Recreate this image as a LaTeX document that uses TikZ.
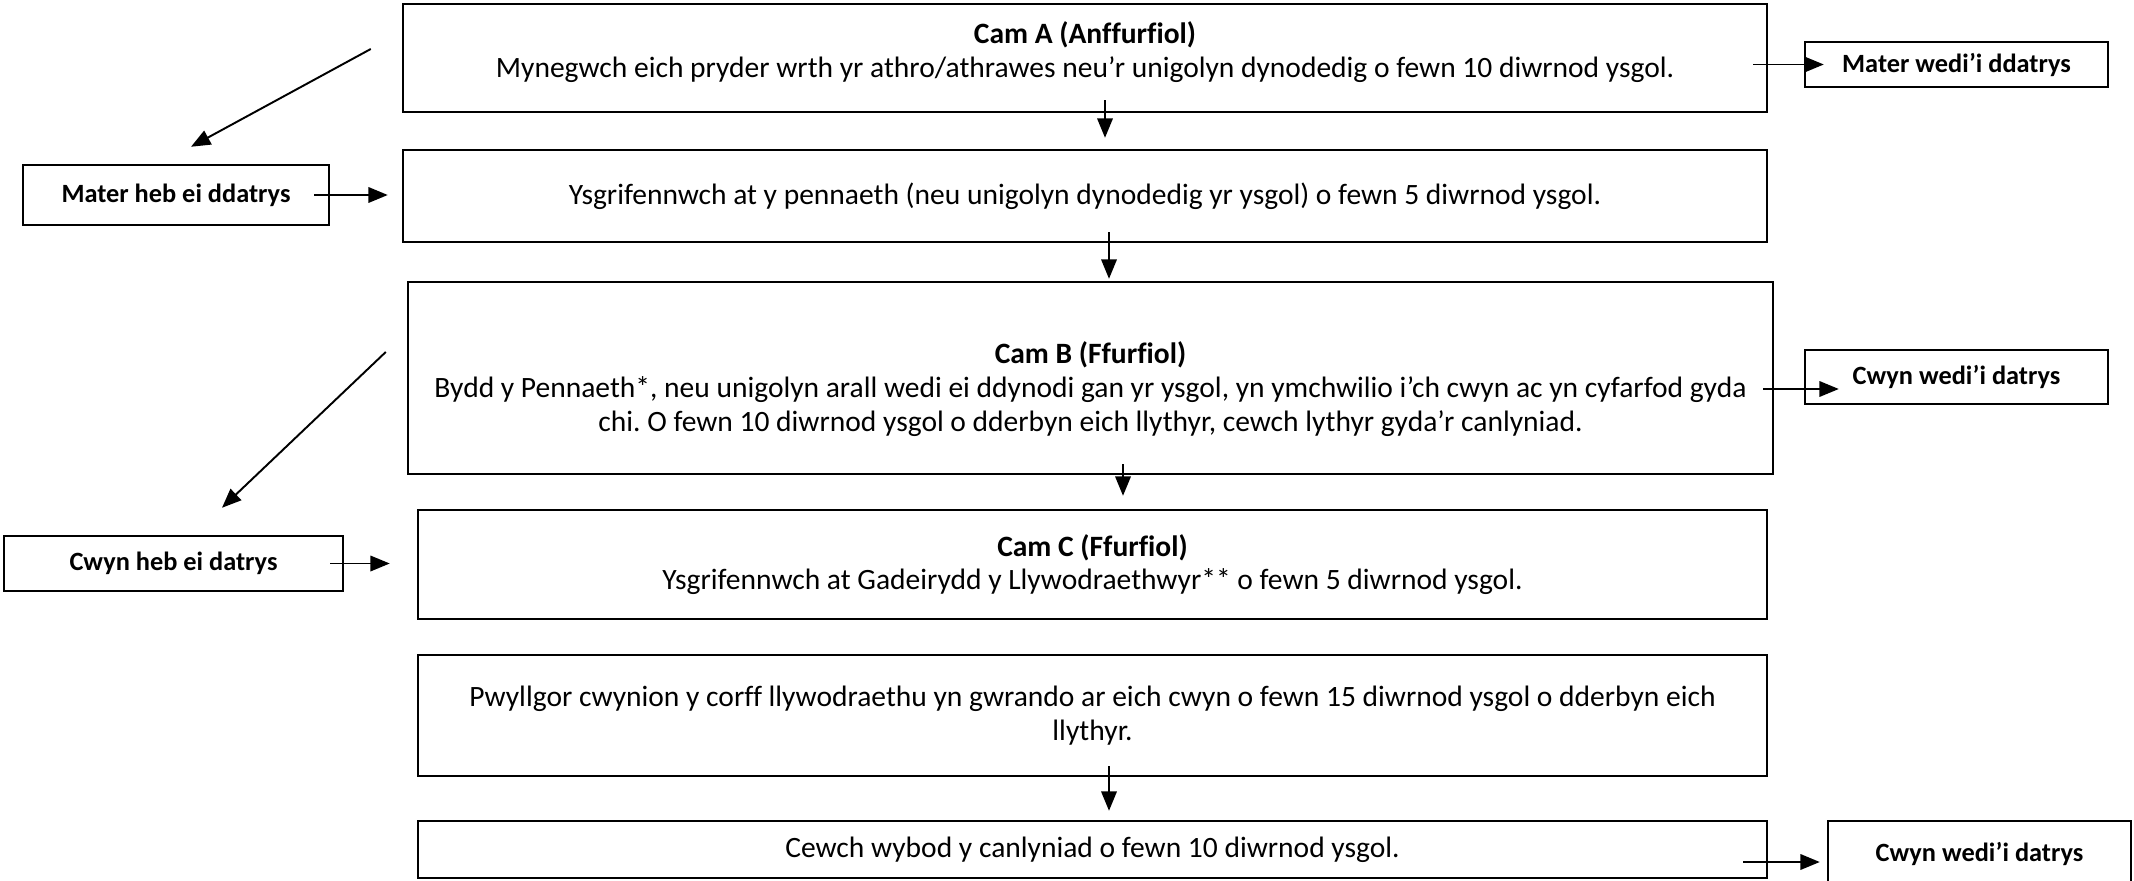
\documentclass[tikz,border=0pt]{standalone}
\usepackage{fontspec}
\setmainfont{Carlito}[Ligatures=NoCommon]
\usetikzlibrary{arrows.meta}
\frenchspacing

\begin{document}
\begin{tikzpicture}[
        stage/.style={draw, line width=0.7pt, align=center, inner sep=0pt},
        outcome/.style={draw, line width=0.7pt, align=center, inner sep=0pt, font=\fontsize{7.5pt}{9pt}\selectfont\bfseries},
        flow/.style={-{Triangle[length=5.5pt,width=4.4pt]}, line width=0.55pt},
        font=\fontsize{8.4pt}{9.6pt}\selectfont
    ]
        \useasboundingbox (0,0) rectangle (21.34,-8.81);

        % Nodes
        \node (cama) [stage, minimum width=13.64cm, minimum height=1.08cm] at (10.85, -0.58) {\textbf{Cam A (Anffurfiol)}\\Mynegwch eich pryder wrth yr athro/athrawes neu’r unigolyn dynodedig o fewn 10 diwrnod ysgol.\rule[-5pt]{0pt}{0pt}};
        \node (ysgrif) [stage, minimum width=13.64cm, minimum height=0.92cm] at (10.85, -1.96) {Ysgrifennwch at y pennaeth (neu unigolyn dynodedig yr ysgol) o fewn 5 diwrnod ysgol.};
        \node (camb) [stage, minimum width=13.65cm, minimum height=1.92cm] at (10.905, -3.78) {\rule{0pt}{12.5pt}\textbf{Cam B (Ffurfiol)}\\Bydd y Pennaeth*, neu unigolyn arall wedi ei ddynodi gan yr ysgol, yn ymchwilio i’ch cwyn ac yn cyfarfod gyda\\chi. O fewn 10 diwrnod ysgol o dderbyn eich llythyr, cewch lythyr gyda’r canlyniad.};
        \node (camc) [stage, minimum width=13.49cm, minimum height=1.09cm] at (10.925, -5.645) {\textbf{Cam C (Ffurfiol)}\\Ysgrifennwch at Gadeirydd y Llywodraethwyr** o fewn 5 diwrnod ysgol.};
        \node (pwyllgor) [stage, minimum width=13.49cm, minimum height=1.21cm] at (10.925, -7.155) {Pwyllgor cwynion y corff llywodraethu yn gwrando ar eich cwyn o fewn 15 diwrnod ysgol o dderbyn eich\\llythyr.};
        \node (cewch) [stage, minimum width=13.49cm, minimum height=0.57cm] at (10.925, -8.495) {Cewch wybod y canlyniad o fewn 10 diwrnod ysgol.};

        \node (materwedi) [outcome, minimum width=3.03cm, minimum height=0.45cm] at (19.565, -0.645) {Mater wedi’i ddatrys};
        \node (materheb) [outcome, minimum width=3.06cm, minimum height=0.60cm] at (1.76, -1.95) {Mater heb ei ddatrys};
        \node (cwynwedi) [outcome, minimum width=3.03cm, minimum height=0.54cm] at (19.565, -3.77) {Cwyn wedi’i datrys};
        \node (cwynheb) [outcome, minimum width=3.39cm, minimum height=0.55cm] at (1.735, -5.635) {Cwyn heb ei datrys};
        \node (cwynwedib) [outcome, minimum width=3.03cm, minimum height=0.66cm] at (19.795, -8.54) {Cwyn wedi’i datrys};

        % Edges
        \draw[flow] ([xshift=0.2cm,yshift=0.13cm]cama.south) -- ([xshift=0.2cm,yshift=0.11cm]ysgrif.north);
        \draw[flow] ([xshift=0.24cm,yshift=0.11cm]ysgrif.south) -- ([xshift=0.185cm,yshift=0.02cm]camb.north);
        \draw[flow] ([xshift=0.325cm,yshift=0.11cm]camb.south) -- ([xshift=0.305cm,yshift=0.13cm]camc.north);
        \draw[flow] ([xshift=0.165cm,yshift=0.11cm]pwyllgor.south) -- ([xshift=0.165cm,yshift=0.09cm]cewch.north);

        \draw[flow] ([xshift=-0.15cm]cama.east |- materwedi.west) -- ([xshift=0.2cm]materwedi.west);
        \draw[flow] ([xshift=-0.11cm,yshift=-0.11cm]camb.east) -- ([xshift=0.35cm,yshift=-0.12cm]cwynwedi.west);
        \draw[flow] ([xshift=-0.25cm,yshift=-0.125cm]cewch.east) -- ([xshift=-0.07cm,yshift=-0.08cm]cwynwedib.west);

        \draw[flow] ([xshift=-0.31cm,yshift=0.09cm]cama.west) -- ([xshift=0.15cm,yshift=0.17cm]materheb.north);
        \draw[flow] ([xshift=-0.16cm]materheb.east) -- ([xshift=-0.14cm]ysgrif.west |- materheb.east);
        \draw[flow] ([xshift=-0.21cm,yshift=0.26cm]camb.west) -- ([xshift=0.485cm,yshift=0.27cm]cwynheb.north);
        \draw[flow] ([xshift=-0.14cm]cwynheb.east) -- ([xshift=-0.27cm]camc.west |- cwynheb.east);
    \end{tikzpicture}
\end{document}
